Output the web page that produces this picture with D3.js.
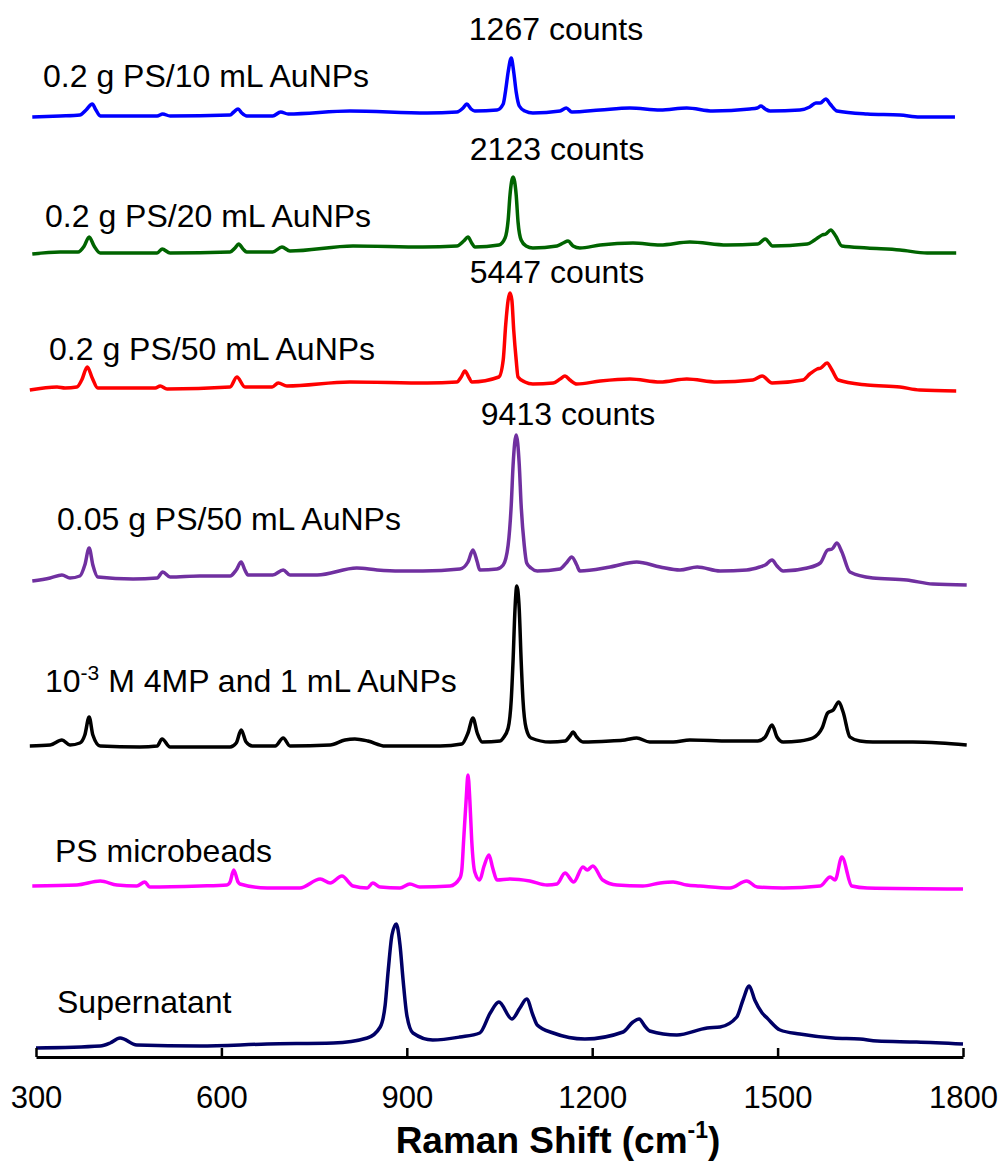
<!DOCTYPE html>
<html>
<head>
<meta charset="utf-8">
<script src="https://cdn.jsdelivr.net/npm/d3@7"></script>
<style>
  body { margin: 0; background: #fff; }
  text { font-family: Arial, "Liberation Sans", sans-serif; fill: #000; }
</style>
</head>
<body>
<svg id="chart" width="1002" height="1164"></svg>
<script>
// DATA (wavenumber in cm-1, intensity in a.u. above each trace's own baseline)
const xTicks = [300, 600, 900, 1200, 1500, 1800];

const sampleNames = [
  "0.2 g PS/10 mL AuNPs",
  "0.2 g PS/20 mL AuNPs",
  "0.2 g PS/50 mL AuNPs",
  "0.05 g PS/50 mL AuNPs",
  "4MP",
  "PS microbeads",
  "Supernatant",
];
const sampleColors = ["#0000ff", "#006400", "#ff0000", "#7030a0", "#000000", "#ff00ff", "#000066"];
const sampleOffsets = [940, 804, 668, 479, 312, 171, 9];
const peakCounts = [1267, 2123, 5447, 9413];

const ps10 = [
  [294,0],[339,1],[371,2],[381,7],[391,13],[397,7],[404,1],[496,1],[505,3],[517,1],
  [614,2],[620,5],[627,8],[633,4],[641,1],[683,1],[696,5],[708,3],[808,6],[933,4],
  [981,5],[991,9],[997,13],[1004,8],[1010,6],[1046,7],[1056,13],[1060,27],[1064,45],
  [1069,59],[1073,45],[1077,25],[1082,11],[1091,6],[1104,4],[1148,6],[1158,9],[1167,5],
  [1213,7],[1261,9],[1310,7],[1353,9],[1395,6],[1455,8],[1467,9],[1473,11],[1480,8],
  [1488,6],[1536,7],[1552,10],[1562,14],[1569,14],[1578,18],[1585,13],[1596,6],
  [1645,3],[1698,2],[1730,0],[1787,0]
];

const ps20 = [
  [294,-1],[339,1],[368,1],[378,7],[386,16],[394,7],[404,0],[496,0],[504,4],[517,0],
  [614,1],[622,5],[628,9],[635,4],[641,1],[683,1],[698,6],[711,2],[813,7],[926,6],
  [981,7],[992,12],[999,16],[1005,10],[1010,6],[1049,8],[1059,15],[1064,33],[1067,58],
  [1072,76],[1077,58],[1080,31],[1085,13],[1093,7],[1104,5],[1143,7],[1153,10],[1161,12],
  [1169,7],[1180,5],[1213,8],[1266,10],[1310,8],[1358,11],[1418,8],[1468,9],[1480,14],
  [1492,7],[1548,9],[1560,13],[1572,18],[1578,19],[1586,23],[1594,17],[1604,7],
  [1645,5],[1698,3],[1742,0],[1789,0]
];

const ps50 = [
  [290,-1],[334,2],[347,1],[366,2],[374,9],[383,22],[391,11],[400,1],[493,1],[501,3],
  [512,0],[614,2],[625,12],[638,2],[682,2],[692,6],[706,3],[808,7],[933,6],[981,7],
  [988,12],[994,18],[1001,11],[1005,7],[1049,12],[1056,29],[1060,64],[1064,89],[1067,96],
  [1070,89],[1073,59],[1077,29],[1080,12],[1091,7],[1104,5],[1137,6],[1148,10],[1156,13],
  [1164,9],[1175,5],[1213,8],[1261,10],[1310,7],[1353,10],[1402,7],[1460,9],[1475,13],
  [1491,6],[1541,9],[1552,15],[1564,20],[1570,21],[1580,26],[1588,19],[1598,9],
  [1645,4],[1698,2],[1730,-1],[1789,-2]
];

const ps005 = [
  [294,-3],[323,0],[342,3],[355,0],[371,2],[379,13],[386,30],[392,13],[400,1],[457,-1],
  [496,0],[505,6],[517,1],[565,2],[614,2],[624,8],[632,16],[638,8],[643,3],[683,3],
  [700,8],[711,3],[755,3],[819,10],[852,8],[889,7],[926,7],[986,9],[999,16],[1007,28],
  [1014,16],[1018,8],[1046,9],[1056,13],[1064,33],[1069,73],[1072,113],[1077,143],
  [1082,113],[1085,73],[1090,33],[1094,15],[1101,10],[1111,7],[1148,9],[1158,15],
  [1167,21],[1175,13],[1180,7],[1229,11],[1272,16],[1310,11],[1342,8],[1370,11],
  [1407,7],[1450,8],[1471,11],[1480,13],[1491,18],[1499,12],[1509,7],[1548,10],
  [1569,15],[1581,28],[1588,29],[1596,35],[1604,26],[1617,6],[1654,0],[1709,-2],
  [1751,-6],[1806,-7]
];

const mp4 = [
  [290,-1],[323,0],[342,5],[355,0],[371,2],[379,10],[386,28],[392,10],[404,-1],[468,-2],
  [496,-1],[504,6],[517,-2],[614,-2],[624,2],[632,15],[640,3],[650,-1],[687,-1],[700,7],
  [711,-1],[776,0],[800,5],[816,6],[837,4],[865,-1],[954,-1],[989,1],[999,12],[1007,27],
  [1014,12],[1022,3],[1051,4],[1056,7],[1064,17],[1069,45],[1072,85],[1075,135],
  [1078,159],[1082,135],[1085,85],[1088,45],[1093,17],[1101,7],[1132,3],[1156,4],
  [1164,9],[1169,13],[1175,8],[1185,3],[1229,4],[1253,5],[1272,7],[1293,3],[1331,3],
  [1358,5],[1423,4],[1468,4],[1480,8],[1491,20],[1499,8],[1509,3],[1536,4],[1557,7],
  [1572,17],[1581,32],[1590,35],[1599,43],[1606,33],[1617,8],[1633,4],[1654,3],
  [1719,3],[1763,2],[1806,0]
];

const psBeads = [
  [294,0],[366,1],[404,5],[431,1],[463,0],[476,4],[484,-1],[565,0],[609,1],[614,4],
  [620,16],[627,4],[630,2],[674,-2],[727,-2],[760,7],[776,3],[795,10],[813,0],[836,-2],
  [845,3],[857,-1],[889,-2],[905,2],[921,-1],[970,0],[986,8],[989,16],[992,46],[996,86],
  [999,111],[1002,86],[1005,46],[1010,14],[1018,6],[1025,20],[1033,31],[1039,18],
  [1046,6],[1067,7],[1099,5],[1127,1],[1143,2],[1156,13],[1170,4],[1185,19],[1192,16],
  [1201,20],[1217,6],[1240,1],[1282,0],[1310,3],[1331,4],[1353,1],[1374,0],[1423,-2],
  [1450,5],[1467,-1],[1509,-2],[1569,0],[1585,9],[1593,6],[1604,29],[1620,0],
  [1645,-2],[1800,-3]
];

const supernatant = [
  [300,0],[404,2],[420,5],[436,10],[463,3],[565,2],[674,4],[781,5],[836,10],[857,21],
  [865,43],[870,78],[876,113],[883,124],[889,103],[894,68],[900,33],[910,15],[942,8],
  [986,11],[1018,15],[1035,35],[1049,46],[1070,29],[1083,40],[1094,49],[1104,33],
  [1111,23],[1137,15],[1188,9],[1250,16],[1266,26],[1276,29],[1285,22],[1293,17],
  [1337,13],[1386,20],[1407,21],[1434,31],[1444,48],[1454,62],[1463,48],[1475,35],
  [1483,30],[1504,18],[1536,14],[1590,10],[1633,9],[1661,7],[1725,6],[1800,4]
];

const spectra = [ps10, ps20, ps50, ps005, mp4, psBeads, supernatant];

// CANVAS SETUP
const svg = d3.select("#chart");
const x = d3.scaleLinear().domain([300, 1800]).range([36, 963]);
const y = d3.scaleLinear().domain([0, 1040]).range([1057, 17]);

const line = d3
  .line()
  .x((d) => x(d[0]))
  .y((d) => y(d[1]))
  .curve(d3.curveMonotoneX);

svg
  .append("g")
  .selectAll("path")
  .data(spectra)
  .join("path")
  .attr("fill", "none")
  .attr("stroke", (d, i) => sampleColors[i])
  .attr("stroke-width", 3.5)
  .attr("stroke-linejoin", "round")
  .attr("d", (d, i) => line(d.map((p) => [p[0], p[1] + sampleOffsets[i]])));

// axis
const gx = svg
  .append("g")
  .attr("transform", `translate(0,${y(0)})`)
  .call(
    d3
      .axisBottom(x)
      .tickValues(xTicks)
      .tickFormat(d3.format("d"))
      .tickSizeInner(-9)
      .tickSizeOuter(0)
      .tickPadding(29)
  );
gx.select(".domain").attr("stroke-width", 3);
gx.selectAll(".tick line").attr("stroke-width", 2.5);
gx.selectAll(".tick text").attr("font-size", 31).attr("font-family", "Arial, 'Liberation Sans', sans-serif");

// title
const title = svg
  .append("text")
  .attr("x", 558)
  .attr("y", 1153)
  .attr("text-anchor", "middle")
  .attr("font-size", 37)
  .attr("font-weight", "bold");
title.append("tspan").text("Raman Shift (cm");
title.append("tspan").attr("font-size", 23).attr("dy", -15).text("-1");
title.append("tspan").attr("dy", 15).text(")");

// sample labels
const labelPos = [
  [43, 87], [45, 227], [49, 360], [57, 530], [45, 692], [55, 862], [57, 1013],
];
const lab = svg
  .append("g")
  .attr("font-size", 32)
  .selectAll("text")
  .data(sampleNames)
  .join("text")
  .attr("x", (d, i) => labelPos[i][0])
  .attr("y", (d, i) => labelPos[i][1]);

lab.filter((d) => d !== "4MP").text((d) => d);
const mp = lab.filter((d) => d === "4MP");
mp.append("tspan").text("10");
mp.append("tspan").attr("font-size", 21).attr("dy", -12).text("-3");
mp.append("tspan").attr("dy", 12).text(" M 4MP and 1 mL AuNPs");

// counts labels
const countPos = [[556, 40], [557, 160], [557, 283], [568, 425]];
svg
  .append("g")
  .attr("font-size", 32)
  .attr("text-anchor", "middle")
  .selectAll("text")
  .data(peakCounts)
  .join("text")
  .attr("x", (d, i) => countPos[i][0])
  .attr("y", (d, i) => countPos[i][1])
  .text((d) => `${d} counts`);
</script>
</body>
</html>
